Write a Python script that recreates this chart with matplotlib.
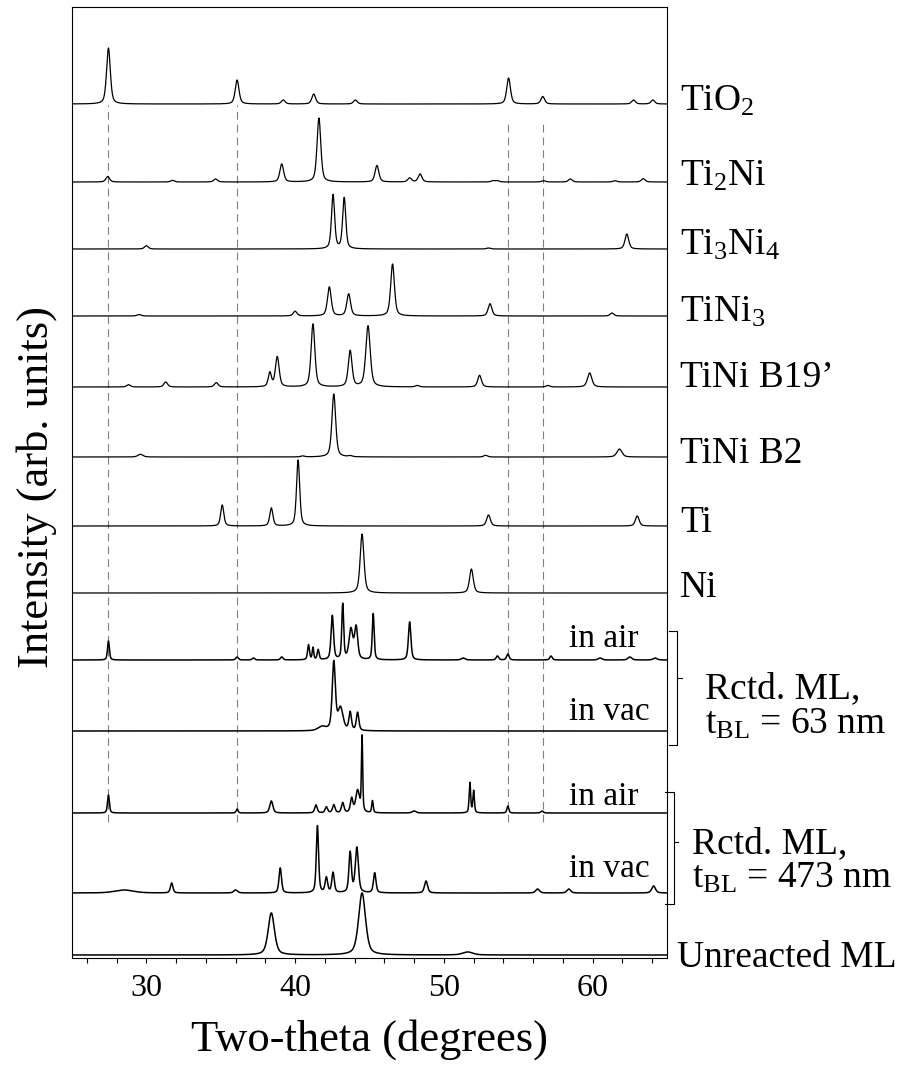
import numpy as np
import matplotlib.pyplot as plt

plt.rcParams['font.family'] = ['Liberation Serif', 'DejaVu Serif']
plt.rcParams['mathtext.fontset'] = 'custom'
plt.rcParams['mathtext.rm'] = 'Liberation Serif'
plt.rcParams['mathtext.it'] = 'Liberation Serif:italic'

# picos: (2theta, altura, anchura FWHM)
tio2 = [(27.45, 56, 0.3), (36.1, 24, 0.3), (39.2, 4, 0.3), (41.25, 10, 0.3),
        (44.05, 4, 0.3), (54.35, 26, 0.3), (56.65, 7.5, 0.3), (62.75, 4, 0.3),
        (64.05, 4, 0.3)]
ti2ni = [(27.4, 5.5, 0.3), (31.75, 1.7, 0.3), (34.65, 3, 0.3), (39.1, 18, 0.3),
         (41.6, 64, 0.3), (45.5, 16.5, 0.3), (47.7, 4, 0.3), (48.4, 8, 0.3),
         (53.3, 1.3, 0.3), (53.6, 1.3, 0.3), (56.7, 1.3, 0.3), (58.5, 3, 0.3),
         (61.5, 1.3, 0.3), (63.4, 3.3, 0.3)]
ti3ni4 = [(30.0, 3.3, 0.3), (42.55, 54, 0.25), (43.3, 51, 0.25), (53.0, 1, 0.3),
          (62.3, 15, 0.3)]
tini3 = [(29.5, 1.5, 0.3), (40.0, 4.7, 0.3), (42.3, 29, 0.3), (43.6, 22, 0.3),
         (46.55, 52, 0.3), (53.1, 12.3, 0.3), (61.3, 3, 0.3)]
tini_b19 = [(28.8, 2.3, 0.3), (31.3, 5, 0.3), (34.7, 4.3, 0.3), (38.3, 14, 0.25),
            (38.8, 30, 0.3), (41.2, 63, 0.3), (43.7, 36, 0.3), (44.9, 61, 0.35),
            (48.2, 1.5, 0.3), (52.4, 11.7, 0.3), (57.0, 1.5, 0.3), (59.8, 14, 0.35)]
tini_b2 = [(29.6, 2.7, 0.4), (40.5, 1, 0.3), (42.6, 63, 0.3), (43.7, 1, 0.3),
           (52.8, 1.7, 0.3), (61.8, 8, 0.4)]
ti = [(35.1, 21, 0.25), (38.4, 18, 0.25), (40.2, 66, 0.25), (53.0, 11, 0.3),
      (63.0, 10, 0.3)]
ni = [(44.5, 59, 0.3), (51.85, 24, 0.3)]
aire_63 = [(27.45, 19, 0.15), (36.1, 3, 0.2), (37.2, 2, 0.2), (39.1, 3, 0.2),
           (40.9, 15, 0.15), (41.2, 12, 0.12), (41.55, 10, 0.15), (42.5, 44, 0.2),
           (43.2, 55, 0.15), (43.75, 30, 0.3), (44.1, 32, 0.25), (45.25, 46, 0.15),
           (47.7, 38, 0.2), (51.3, 2, 0.3), (53.6, 4, 0.2), (54.3, 6, 0.2),
           (57.2, 4, 0.2), (60.5, 2, 0.3), (62.5, 3, 0.3), (64.2, 2, 0.3)]
vacio_63 = [(41.8, 4, 0.6), (42.6, 68, 0.25), (43.05, 22, 0.4), (43.7, 18, 0.2),
            (44.2, 18, 0.2)]
aire_473 = [(27.45, 18, 0.15), (36.1, 4, 0.15), (38.4, 12, 0.25), (41.4, 8, 0.2),
            (42.1, 6, 0.2), (42.6, 8, 0.2), (43.2, 10, 0.2), (43.8, 14, 0.2),
            (44.2, 22, 0.3), (44.5, 75, 0.1), (45.2, 12, 0.12), (48.0, 2, 0.3),
            (51.75, 30, 0.12), (52.0, 22, 0.12), (54.3, 7, 0.15), (56.6, 2, 0.2)]
vacio_473 = [(28.5, 3, 1.5), (31.7, 10, 0.2), (36.0, 3, 0.3), (39.0, 25, 0.2),
             (41.5, 67, 0.18), (42.1, 15, 0.2), (42.55, 20, 0.2), (43.7, 40, 0.2),
             (44.15, 45, 0.25), (45.35, 20, 0.2), (48.8, 12, 0.25), (56.3, 4, 0.3),
             (58.4, 4, 0.3), (64.1, 7, 0.3)]
sin_reaccion = [(38.4, 42, 0.5), (44.5, 62, 0.55), (51.6, 3, 0.8)]

espectros = [tio2, ti2ni, ti3ni4, tini3, tini_b19, tini_b2, ti, ni,
             aire_63, vacio_63, aire_473, vacio_473, sin_reaccion]
desplazamientos = [854, 776, 709, 642, 571, 501, 432, 365, 298, 227, 145, 65, 3]

etiquetas = ['TiO$_2$', 'Ti$_2$Ni', 'Ti$_3$Ni$_4$', 'TiNi$_3$', 'TiNi B19\u2019',
             'TiNi B2', 'Ti', 'Ni']
etiqueta_dy = [-7, -4, -6, -6, 0, -6, -6, -4]

rutilo = [27.45, 36.1, 54.32, 56.64]
rutilo_top = [853, 853, 835, 835]

x = np.linspace(25, 65, 4001)


def perfil(picos):
    y = np.zeros_like(x)
    for c, h, w in picos:
        g = np.exp(-4 * np.log(2) * ((x - c) / w) ** 2)
        l = 1 / (1 + 4 * ((x - c) / w) ** 2)
        y += h * (0.5 * g + 0.5 * l)
    return y


fig = plt.figure(figsize=(9.03, 10.68), dpi=100)
ax = fig.add_axes([72 / 903, 110 / 1068, 595 / 903, 951.3 / 1068])

for xr, yt in zip(rutilo, rutilo_top):
    ax.plot([xr, xr], [136, yt], color='#808080', lw=0.8,
            linestyle=(0, (7, 4.5)), zorder=1)

for i, (picos, off) in enumerate(zip(espectros, desplazamientos)):
    ax.plot(x, perfil(picos) + off, color='black',
            lw=0.9 if i < 8 else 1.1, zorder=2)

ax.set_xlim(25, 65)
ax.set_ylim(0, 951.3)
ax.set_yticks([])
ticks = list(range(26, 65, 2))
ax.set_xticks(ticks)
ax.set_xticklabels([str(t) if t % 10 == 0 else '' for t in ticks])
ax.tick_params(axis='x', direction='out', length=3.6, width=0.8,
               labelsize=23, pad=8)
for s in ax.spines.values():
    s.set_linewidth(0.8)

tr = ax.get_yaxis_transform()

# etiquetas de la derecha
for lab, off, dy in zip(etiquetas, desplazamientos, etiqueta_dy):
    ax.text(1.022, off + dy, lab, transform=tr, fontsize=27,
            va='baseline', ha='left')
ax.text(1.016, desplazamientos[12] - 12, 'Unreacted ML', transform=tr,
        fontsize=27, va='baseline', ha='left')

for off, dy, lab in zip(desplazamientos[8:12], [13, 11, 8, 16],
                        ['in air', 'in vac', 'in air', 'in vac']):
    ax.text(0.835, off + dy, lab, transform=tr, fontsize=24,
            va='baseline', ha='left')

# corchetes
for xb, top, bot, mid in [(1.017, 327, 213, 280), (1.011, 166, 54, 116)]:
    ax.plot([xb - 0.014, xb, xb, xb - 0.014], [top, top, bot, bot],
            color='black', lw=0.8, transform=tr, clip_on=False)
    ax.plot([xb, xb + 0.008], [mid, mid], color='black', lw=0.8,
            transform=tr, clip_on=False)

ax.text(1.064, 260, 'Rctd. ML,', transform=tr, fontsize=27, va='baseline')
ax.text(1.064, 224, 't$_{\\mathrm{BL}}$ = 63 nm', transform=tr, fontsize=27,
        va='baseline')
ax.text(1.042, 105, 'Rctd. ML,', transform=tr, fontsize=27, va='baseline')
ax.text(1.042, 70, 't$_{\\mathrm{BL}}$ = 473 nm', transform=tr, fontsize=27,
        va='baseline')

fig.text(37 / 903, 1 - 487 / 1068, 'Intensity (arb. units)', rotation=90,
         fontsize=32, ha='center', va='center')
fig.text(369.5 / 903, 1 - 1040 / 1068, 'Two-theta (degrees)', fontsize=32,
         ha='center', va='center')

fig.savefig('out.png', dpi=100)
